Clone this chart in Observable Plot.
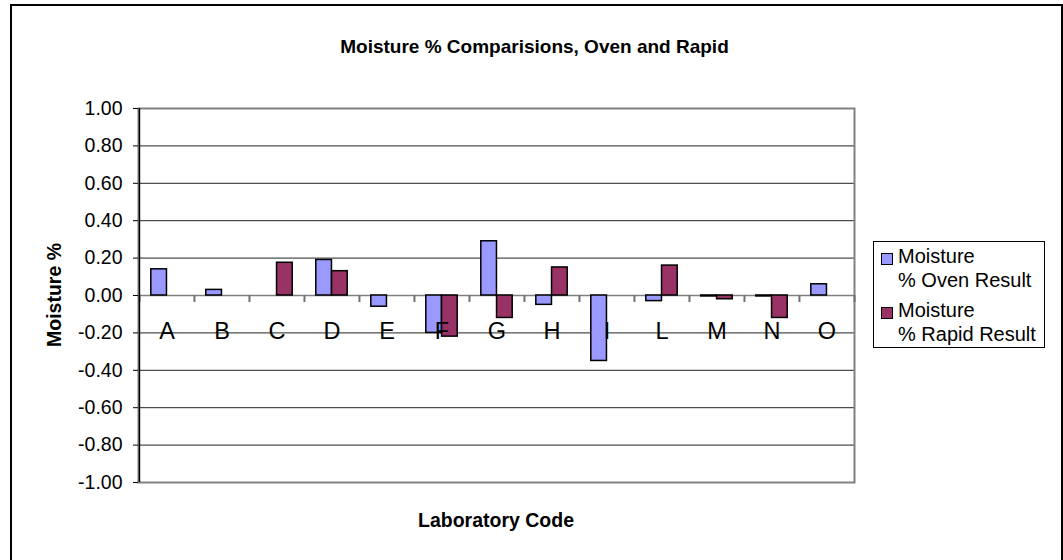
<!DOCTYPE html>
<html>
<head>
<meta charset="utf-8">
<script src="https://cdn.jsdelivr.net/npm/d3@7"></script>
<script src="https://cdn.jsdelivr.net/npm/@observablehq/plot@0.6"></script>
<style>
  html, body { margin: 0; padding: 0; background: #fff; overflow: hidden; }
  #wrap { position: relative; width: 1063px; height: 560px; overflow: hidden; font-family: "Liberation Sans", Arial, sans-serif; color: #000; }
  #border { position: absolute; left: 10px; top: 4px; width: 1049px; height: 600px; border: 2px solid #000; }
  #chart { position: absolute; left: 0; top: 0; }
  .title { position: absolute; left: 0; width: 1069px; top: 37px; text-align: center; font-weight: bold; font-size: 19px; line-height: 19px; white-space: nowrap; }
  .xlabel { position: absolute; left: 138px; width: 716px; top: 511px; text-align: center; font-weight: bold; font-size: 19.5px; line-height: 19.5px; white-space: nowrap; }
  .ylabel { position: absolute; left: 45px; top: 295px; font-weight: bold; font-size: 19.5px; line-height: 19.5px; white-space: nowrap; transform-origin: 0 0; }
  #legend { position: absolute; left: 873px; top: 241px; width: 172px; height: 107px; border: 1px solid #000; box-sizing: border-box; }
  .item { position: absolute; left: 0; font-size: 20px; line-height: 24px; }
  .sw { position: absolute; left: 7px; top: 9px; width: 10px; height: 10px; border: 1.5px solid #000; }
  .txt { position: absolute; left: 24px; top: 0; white-space: nowrap; }
</style>
</head>
<body>
<div id="wrap">
  <div id="border"></div>
  <div id="chart"></div>
  <div class="title" id="title"></div>
  <div class="xlabel" id="xlabel"></div>
  <div class="ylabel" id="ylabel"></div>
  <div id="legend"></div>
</div>
<script>
const titleText = "Moisture % Comparisions, Oven and Rapid";
const xLabel = "Laboratory Code";
const yLabel = "Moisture %";
const categories = ["A", "B", "C", "D", "E", "F", "G", "H", "I", "L", "M", "N", "O"];
const ovenValues = [0.14, 0.03, null, 0.19, -0.06, -0.20, 0.29, -0.05, -0.35, -0.03, -0.005, -0.005, 0.06];
const rapidValues = [null, null, 0.175, 0.13, null, -0.22, -0.12, 0.15, null, 0.16, -0.02, -0.12, null];
const seriesNames = ["Moisture % Oven Result", "Moisture % Rapid Result"];
const seriesColors = ["#9999FF", "#993366"];
const yTicks = [1.0, 0.8, 0.6, 0.4, 0.2, 0, -0.2, -0.4, -0.6, -0.8, -1.0];

const rows = [];
categories.forEach((c, i) => {
  rows.push({cat: c, series: seriesNames[0], value: ovenValues[i]});
  rows.push({cat: c, series: seriesNames[1], value: rapidValues[i]});
});

const width = 870, height = 560;
const ml = 138, mr = 16, mt = 108, mb = 78;
const step = (width - ml - mr) / categories.length;
const bw = step / 3.5;

const chart = Plot.plot({
  width, height,
  marginLeft: ml, marginRight: mr, marginTop: mt, marginBottom: mb,
  style: {fontFamily: "Liberation Sans, Arial, sans-serif", fontSize: "19.5px", color: "#000", background: "transparent", overflow: "visible"},
  x: {type: "band", domain: categories, padding: 0, axis: null},
  y: {domain: [-1, 1], axis: null},
  marks: [
    Plot.ruleY(yTicks.filter(t => t !== 0 && Math.abs(t) !== 1), {stroke: "#222", strokeWidth: 1}),
    Plot.frame({stroke: "#808080", strokeWidth: 2}),
    Plot.ruleY([0], {stroke: "#808080", strokeWidth: 1.5}),
    Plot.ruleX(categories, {x: d => d, y1: 0, y2: 0, insetBottom: -7, dx: -step / 2, stroke: "#707070", strokeWidth: 2}),
    Plot.ruleX(categories.slice(-1), {x: d => d, y1: 0, y2: 0, insetBottom: -7, dx: step / 2, stroke: "#707070", strokeWidth: 2}),
    Plot.ruleX(categories.slice(0, 1), {x: d => d, dx: -step / 2, stroke: "#000", strokeWidth: 1.5}),
    Plot.axisY(yTicks, {tickSize: 5, tickPadding: 11, tickFormat: d => d.toFixed(2), fontSize: 19.5, label: null, stroke: "#000"}),
    Plot.barY(rows.filter(d => d.series === seriesNames[0] && d.value != null), {
      x: "cat", y: "value", fill: seriesColors[0], stroke: "#000", strokeWidth: 1.5,
      insetLeft: 0.75 * bw, insetRight: 1.75 * bw
    }),
    Plot.barY(rows.filter(d => d.series === seriesNames[1] && d.value != null), {
      x: "cat", y: "value", fill: seriesColors[1], stroke: "#000", strokeWidth: 1.5,
      insetLeft: 1.75 * bw, insetRight: 0.75 * bw
    }),
    Plot.text(categories, {x: d => d, y: 0, text: d => d, dy: 43, lineAnchor: "bottom", fontSize: 23.5, fill: "#000"})
  ]
});
document.getElementById("chart").appendChild(chart);

document.getElementById("title").textContent = titleText;
document.getElementById("xlabel").textContent = xLabel;
const yl = document.getElementById("ylabel");
yl.textContent = yLabel;
const w = yl.getBoundingClientRect().width;
yl.style.transform = `translate(0px, ${w / 2}px) rotate(-90deg)`;

const legend = document.getElementById("legend");
seriesNames.forEach((name, i) => {
  const item = document.createElement("div");
  item.className = "item";
  item.style.top = (2 + i * 54) + "px";
  const sw = document.createElement("div");
  sw.className = "sw";
  sw.style.background = seriesColors[i];
  const txt = document.createElement("div");
  txt.className = "txt";
  const k = name.indexOf(" ");
  txt.appendChild(document.createTextNode(name.slice(0, k)));
  txt.appendChild(document.createElement("br"));
  txt.appendChild(document.createTextNode(name.slice(k + 1)));
  item.appendChild(sw);
  item.appendChild(txt);
  legend.appendChild(item);
});
</script>
</body>
</html>
